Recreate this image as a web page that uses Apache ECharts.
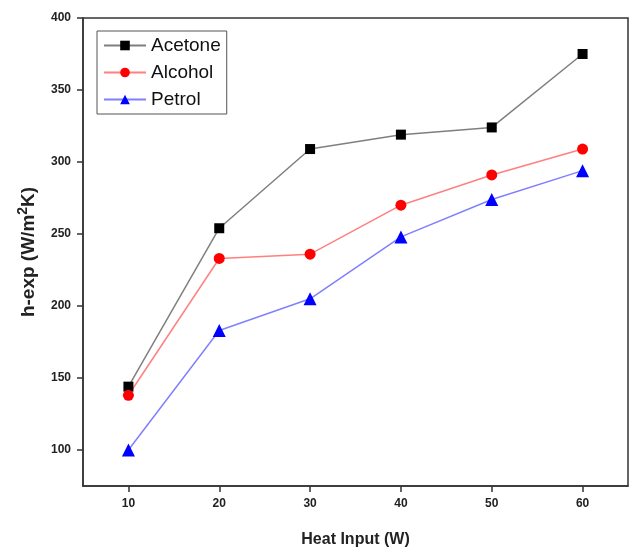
<!DOCTYPE html>
<html>
<head>
<meta charset="utf-8">
<script src="https://cdn.jsdelivr.net/npm/echarts@6/dist/echarts.min.js"></script>
<style>
  html, body { margin: 0; padding: 0; background: #fff; }
  #chart { width: 630px; height: 550px; }
</style>
</head>
<body>
<div id="chart"></div>
<script>
// 数据
var heatInput = [10, 20, 30, 40, 50, 60];
var acetone = [144, 254, 309, 319, 324, 375];
var alcohol = [138, 233, 236, 270, 291, 309];
var petrol = [100, 183, 205, 248, 274, 294];
var xTicks = [10, 20, 30, 40, 50, 60];
var yTicks = [100, 150, 200, 250, 300, 350, 400];

function pairs(ys) {
    return heatInput.map(function (x, i) { return [x, ys[i]]; });
}

var myChart = echarts.init(document.getElementById('chart'));
var labelFont = { fontFamily: 'Arial, "Liberation Sans"', fontWeight: 'bold', color: '#222' };

var option = {
    animation: false,
    grid: {
        left: 83,
        right: 2,
        top: 18,
        bottom: 64,
        outerBoundsMode: 'none',
        show: true,
        borderColor: '#333',
        borderWidth: 1.5
    },
    legend: {
        orient: 'vertical',
        left: 97,
        top: 31,
        padding: [5, 6, 5, 6],
        itemWidth: 42,
        itemHeight: 12,
        itemGap: 8,
        borderColor: '#555',
        borderWidth: 1,
        textStyle: { fontSize: 19, fontFamily: 'Arial, "Liberation Sans"', color: '#111' },
        data: ['Acetone', 'Alcohol', 'Petrol']
    },
    xAxis: {
        type: 'value',
        min: 5,
        max: 65,
        name: 'Heat Input (W)',
        nameLocation: 'middle',
        nameGap: 46,
        nameTextStyle: Object.assign({ fontSize: 16 }, labelFont),
        splitLine: { show: false },
        axisLine: { lineStyle: { color: '#333', width: 1.5 } },
        axisTick: { length: 6, lineStyle: { color: '#333', width: 1.5 }, customValues: xTicks },
        axisLabel: Object.assign({ fontSize: 12, margin: 12, customValues: xTicks }, labelFont)
    },
    yAxis: {
        type: 'value',
        min: 75,
        max: 400,
        name: 'h-exp (W/m{sup|2}K)',
        nameLocation: 'middle',
        nameGap: 42,
        nameTextStyle: Object.assign({
            fontSize: 19,
            rich: {
                sup: Object.assign({ fontSize: 14, padding: [0, 0, 11, 0] }, labelFont)
            }
        }, labelFont),
        splitLine: { show: false },
        axisLine: { show: true, lineStyle: { color: '#333', width: 1.5 } },
        axisTick: { show: true, length: 6, lineStyle: { color: '#333', width: 1.5 }, customValues: yTicks },
        axisLabel: Object.assign({ fontSize: 12, margin: 12, customValues: yTicks }, labelFont)
    },
    series: [
        {
            name: 'Acetone',
            type: 'line',
            data: pairs(acetone),
            symbol: 'rect',
            symbolSize: 10,
            itemStyle: { color: '#000' },
            lineStyle: { color: '#7f7f7f', width: 1.5 }
        },
        {
            name: 'Alcohol',
            type: 'line',
            data: pairs(alcohol),
            symbol: 'circle',
            symbolSize: 11,
            itemStyle: { color: '#ff0000' },
            lineStyle: { color: '#ff8080', width: 1.5 }
        },
        {
            name: 'Petrol',
            type: 'line',
            data: pairs(petrol),
            symbol: 'triangle',
            symbolSize: 13,
            itemStyle: { color: '#0000ff' },
            lineStyle: { color: '#8080ff', width: 1.5 }
        }
    ]
};
myChart.setOption(option);
window.addEventListener('resize', function () {
    myChart.resize();
});
</script>
</body>
</html>
